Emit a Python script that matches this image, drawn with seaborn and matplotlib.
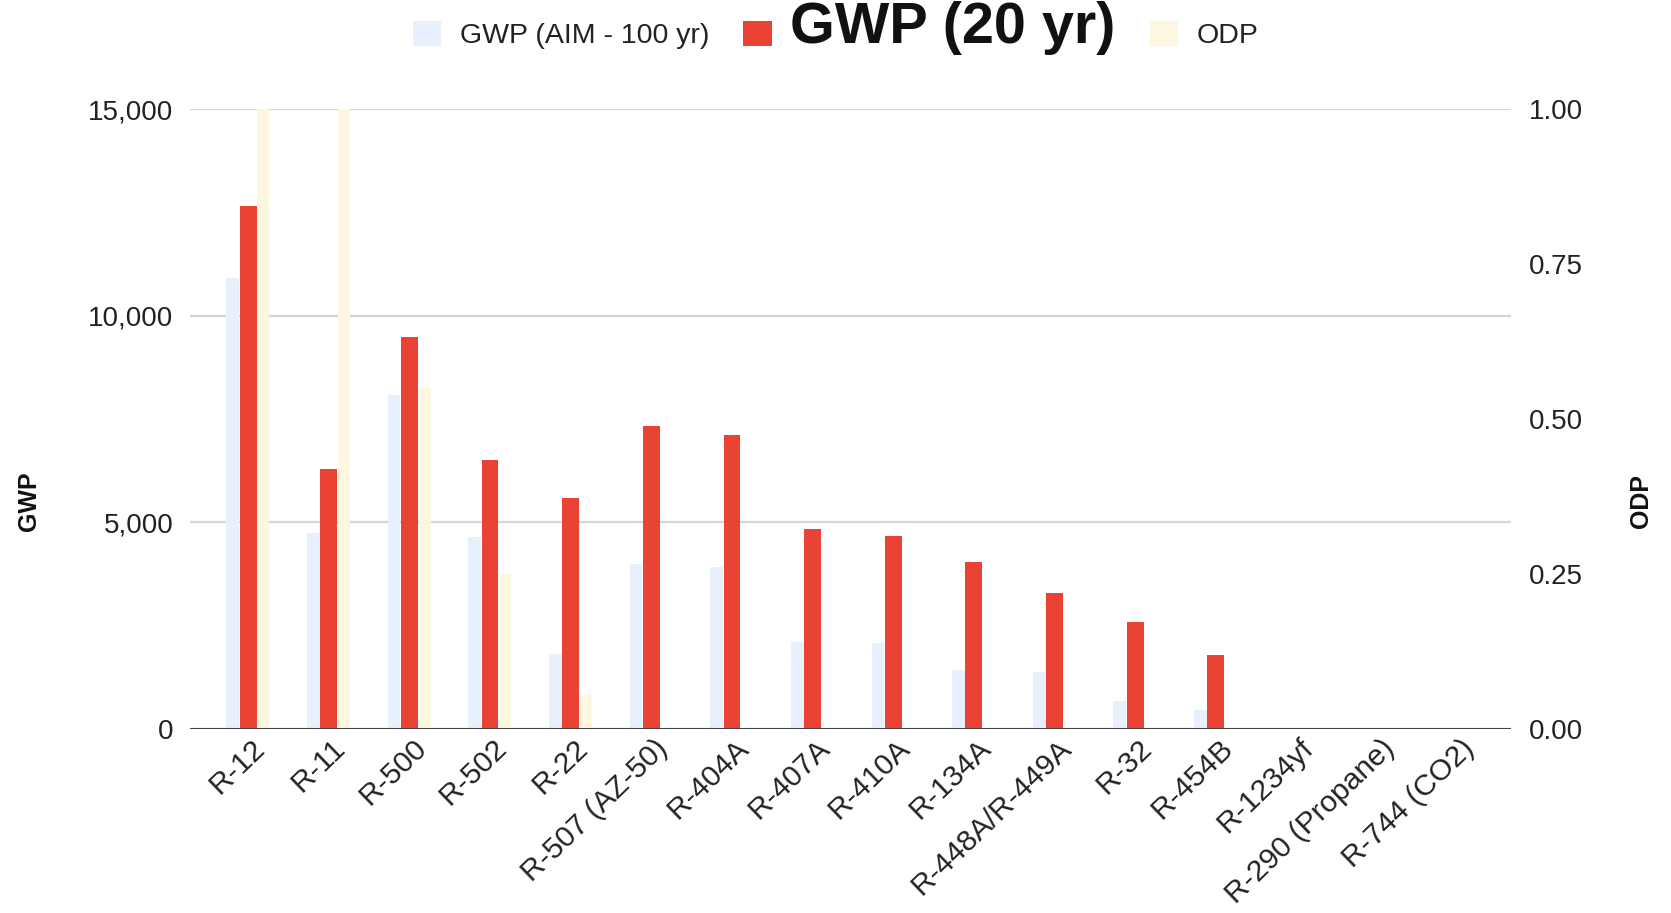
#!/usr/bin/env python3

import numpy as np
import pandas as pd
import matplotlib
matplotlib.use('Agg')
import matplotlib.pyplot as plt
import matplotlib.ticker as mticker
from matplotlib.patches import Patch
from matplotlib.transforms import ScaledTranslation
import seaborn as sns

# Data
refrigerants = ['R-12', 'R-11', 'R-500', 'R-502', 'R-22', 'R-507 (AZ-50)',
                'R-404A', 'R-407A', 'R-410A', 'R-134A', 'R-448A/R-449A',
                'R-32', 'R-454B', 'R-1234yf', 'R-290 (Propane)', 'R-744 (CO2)']
gwp_aim_100 = [10900, 4750, 8077, 4657, 1810, 3985, 3922, 2107, 2088, 1430,
               1390, 675, 466, 4, 3, 1]
gwp_20 = [12650, 6290, 9480, 6520, 5590, 7320, 7110, 4850, 4660, 4050,
          3300, 2600, 1780, 1, 1, 1]
odp = [1.0, 1.0, 0.55, 0.25, 0.055, 0, 0, 0, 0, 0, 0, 0, 0, 0, 0, 0]

df = pd.DataFrame({'name': refrigerants, 'aim': gwp_aim_100,
                   'gwp20': gwp_20, 'odp': odp})
df['pos'] = np.arange(len(df))

BLUE = '#e8f0fe'
RED = '#ea4335'
YELLOW = '#fef7e0'
TEXT = '#222222'

sns.set_style('white')
plt.rcParams['font.family'] = ['Liberation Sans', 'DejaVu Sans']

fig = plt.figure(figsize=(16.71, 9.13), dpi=100)
ax = fig.add_axes([0.1137, 0.2015, 0.7906, 0.6791])
ax2 = ax.twinx()

# GWP bars on the left axis
sns.barplot(x=df['pos'] - 0.19, y=df['aim'], native_scale=True, width=0.16,
            color=BLUE, saturation=1, errorbar=None, orient='x', ax=ax,
            linewidth=0)
sns.barplot(x=df['pos'], y=df['gwp20'], native_scale=True, width=0.21,
            color=RED, saturation=1, errorbar=None, orient='x', ax=ax,
            linewidth=0)
# ODP bars on the right axis
sns.barplot(x=df['pos'] + 0.19, y=df['odp'], native_scale=True, width=0.15,
            color=YELLOW, saturation=1, errorbar=None, orient='x', ax=ax2,
            linewidth=0)

ax.set_xlim(-0.72, 15.66)
ax2.set_xlim(-0.72, 15.66)
ax.set_ylim(0, 15000)
ax2.set_ylim(0, 1)

ax.set_yticks([0, 5000, 10000, 15000])
ax.yaxis.set_major_formatter(mticker.StrMethodFormatter('{x:,.0f}'))
ax2.set_yticks([0, 0.25, 0.5, 0.75, 1.0])
ax2.yaxis.set_major_formatter(mticker.StrMethodFormatter('{x:.2f}'))

ax.grid(axis='y', color='#d6d6d6', linewidth=1.6)
ax.grid(axis='x', visible=False)
ax2.grid(False)
ax.set_axisbelow(True)
for a in (ax, ax2):
    for s in a.spines.values():
        s.set_visible(False)
ax2.axhline(0, color='#444444', linewidth=2.2, zorder=5)

ax.tick_params(axis='y', length=0, pad=12, labelsize=20, labelcolor=TEXT)
ax2.tick_params(axis='y', length=0, pad=13, labelsize=20, labelcolor=TEXT)
ax2.tick_params(axis='x', length=0)

ax.set_xticks(df['pos'])
ax.set_xticklabels(df['name'], rotation=44, ha='right', va='top',
                   rotation_mode='anchor', fontsize=21.5, color=TEXT)
ax.tick_params(axis='x', length=0, pad=2)
offset = ScaledTranslation(3 / 100, -2 / 100, fig.dpi_scale_trans)
for lbl in ax.get_xticklabels():
    lbl.set_transform(lbl.get_transform() + offset)

ax.set_xlabel('')
ax.set_ylabel('GWP', fontsize=18, fontweight='bold', color='#111111')
ax.yaxis.set_label_coords(-0.113, 0.368)
ax2.set_ylabel('ODP', fontsize=18, fontweight='bold', color='#111111',
               rotation=90)
ax2.yaxis.set_label_coords(1.089, 0.368)

# Legend across the top
handles = [Patch(facecolor=BLUE, edgecolor='none'),
           Patch(facecolor=RED, edgecolor='none'),
           Patch(facecolor=YELLOW, edgecolor='none')]
labels = ['GWP (AIM - 100 yr)', 'GWP (20 yr)', 'ODP']
leg = fig.legend(handles, labels, loc='center', bbox_to_anchor=(0.5, 0.969),
                 ncol=3, frameon=False, fontsize=20.5, handlelength=1.0,
                 handleheight=1.0, handletextpad=0.65, columnspacing=1.2)
for t in leg.get_texts():
    t.set_color(TEXT)
leg.get_texts()[1].set_fontsize(41.5)
leg.get_texts()[1].set_fontweight('bold')
leg.get_texts()[1].set_color('#111111')

plt.savefig('out.png', dpi=100)
